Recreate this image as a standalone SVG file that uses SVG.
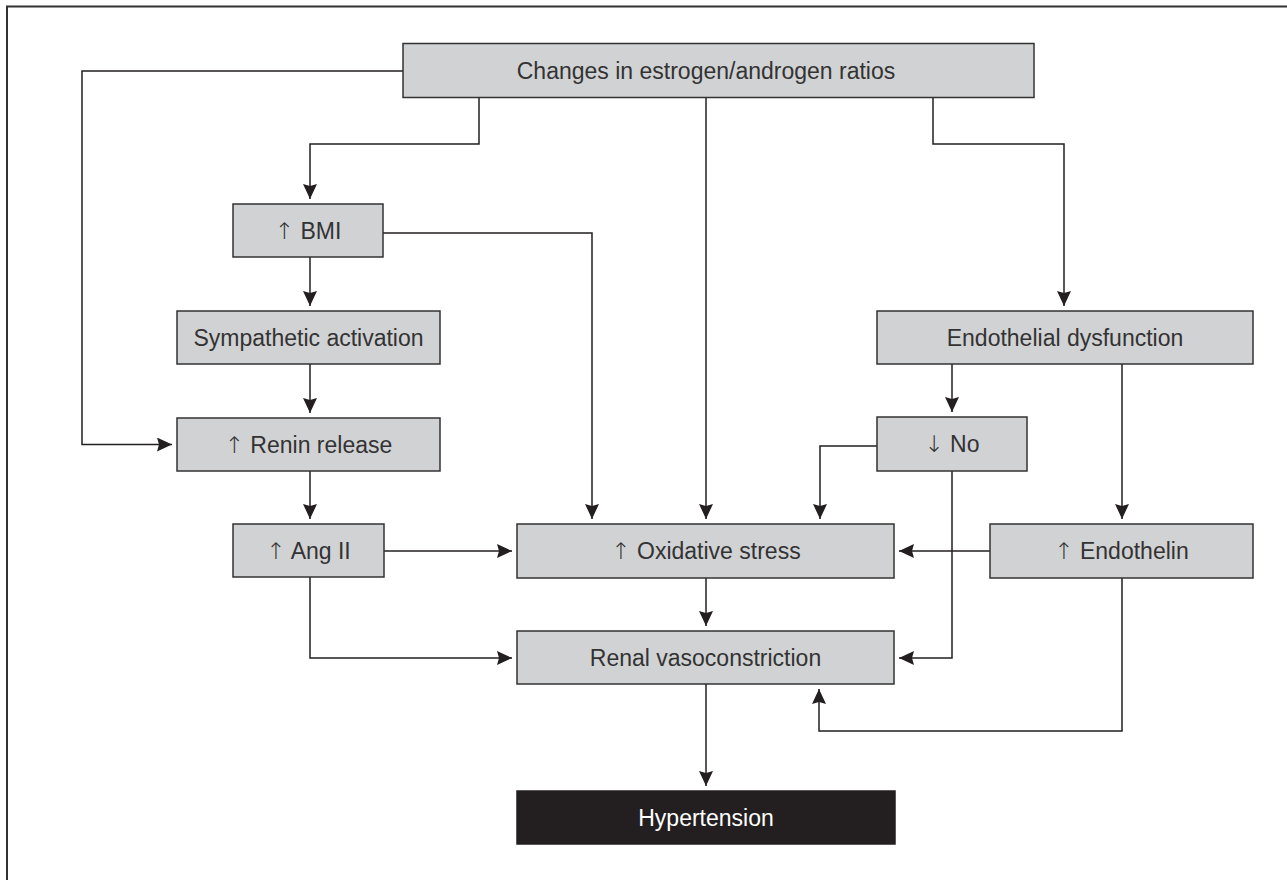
<svg xmlns="http://www.w3.org/2000/svg" width="1287" height="880" viewBox="0 0 1287 880">
<defs>
<marker id="ah" markerUnits="userSpaceOnUse" markerWidth="16" markerHeight="14" refX="15" refY="7" orient="auto">
<path d="M0,0 L15,7 L0,14 L2,7 Z" fill="#231f20"/>
</marker>
<style>
.box{fill:#d1d2d4;stroke:#333;stroke-width:1.5}
.dark{fill:#231f20;stroke:#231f20;stroke-width:1.5}
.t{font-family:"Liberation Sans",Arial,sans-serif;font-size:23px;fill:#333;text-anchor:middle}
.tw{font-family:"Liberation Sans",Arial,sans-serif;font-size:23px;fill:#fff;text-anchor:middle}
.ar{font-family:"DejaVu Sans",sans-serif;font-weight:200;fill:#333}
.c{fill:none;stroke:#231f20;stroke-width:1.5}
.a{marker-end:url(#ah)}
</style>
</defs>
<rect width="1287" height="880" fill="#fff"/>
<path d="M7,880 V6.5 H1287" fill="none" stroke="#333" stroke-width="2"/>
<g id="connectors">
<path class="c a" d="M403,71 H82 V444.5 H172"/>
<path class="c a" d="M479,97.5 V144 H310 V199"/>
<path class="c a" d="M706,97.5 V519"/>
<path class="c a" d="M933,97.5 V144 H1064 V306"/>
<path class="c a" d="M383,233 H592 V519"/>
<path class="c a" d="M310,257 V306"/>
<path class="c a" d="M310,364 V413"/>
<path class="c a" d="M310,471 V519"/>
<path class="c a" d="M384,551 H512"/>
<path class="c a" d="M310,577 V658 H512"/>
<path class="c a" d="M706,578 V626"/>
<path class="c a" d="M706,684 V786"/>
<path class="c a" d="M952,364 V412"/>
<path class="c a" d="M1122,364 V519"/>
<path class="c a" d="M877,446 H820 V519"/>
<path class="c a" d="M952,471 V658 H899"/>
<path class="c a" d="M990,551 H899"/>
<path class="c a" d="M1122,578 V731 H819 V689"/>
</g>
<g id="n-changes"><rect class="box" x="403" y="43.5" width="631" height="54"/><text class="t" x="706" y="79">Changes in estrogen/androgen ratios</text></g>
<g id="n-bmi"><rect class="box" x="233" y="204" width="150" height="53"/><text class="t" x="308" y="239"><tspan class="ar">↑</tspan> BMI</text></g>
<g id="n-symp"><rect class="box" x="177" y="311" width="263" height="53"/><text class="t" x="308.5" y="346">Sympathetic activation</text></g>
<g id="n-renin"><rect class="box" x="177" y="418" width="263" height="53"/><text class="t" x="308.5" y="453"><tspan class="ar">↑</tspan> Renin release</text></g>
<g id="n-ang"><rect class="box" x="233" y="524" width="151" height="53"/><text class="t" x="308.5" y="559"><tspan class="ar">↑</tspan> Ang II</text></g>
<g id="n-ox"><rect class="box" x="517" y="524" width="377" height="54"/><text class="t" x="706" y="559"><tspan class="ar">↑</tspan> Oxidative stress</text></g>
<g id="n-renal"><rect class="box" x="517" y="631" width="377" height="53"/><text class="t" x="705.5" y="666">Renal vasoconstriction</text></g>
<g id="n-hyp"><rect class="dark" x="517" y="791" width="378" height="53"/><text class="tw" x="706" y="826">Hypertension</text></g>
<g id="n-endo"><rect class="box" x="877" y="311" width="376" height="53"/><text class="t" x="1065" y="346">Endothelial dysfunction</text></g>
<g id="n-no"><rect class="box" x="877" y="417" width="150" height="54"/><text class="t" x="952" y="452"><tspan class="ar">↓</tspan> No</text></g>
<g id="n-et"><rect class="box" x="990" y="524" width="263" height="54"/><text class="t" x="1121.5" y="559"><tspan class="ar">↑</tspan> Endothelin</text></g>
</svg>
